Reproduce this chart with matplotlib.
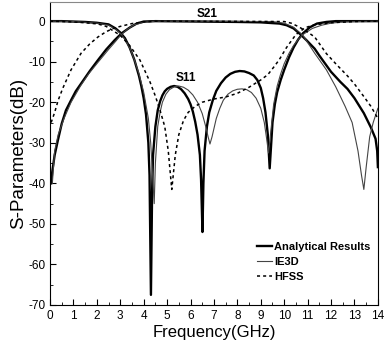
import numpy as np
import matplotlib.pyplot as plt

plt.rcParams['font.family'] = ['Liberation Sans', 'DejaVu Sans']
plt.rcParams['axes.unicode_minus'] = False

# Analytical results
f_a11 = [0, 0.5, 1.0, 1.5, 2.0, 2.5, 2.8, 3.0, 3.2, 3.4, 3.6, 3.8, 3.9, 4.0, 4.1, 4.2, 4.25, 4.31, 4.36, 4.4,
         4.5, 4.6, 4.7, 4.8, 4.9, 5.0, 5.15, 5.3, 5.45, 5.6, 5.75, 5.9, 6.0, 6.1, 6.2, 6.3, 6.4, 6.45, 6.51,
         6.55, 6.6, 6.7, 6.8, 6.95, 7.1, 7.3, 7.5, 7.7, 7.9, 8.1, 8.3, 8.5, 8.7, 8.85, 9.0, 9.1, 9.2, 9.3, 9.38,
         9.5, 9.6, 9.7, 9.85, 10.0, 10.2, 10.4, 10.6, 10.8, 11.1, 11.4, 11.8, 12.2, 13.0, 14.0]
s11_a = [0, 0, -0.1, -0.2, -0.4, -0.8, -1.8, -2.8, -4.2, -6.5, -9.5, -13.5, -16, -19, -23, -30, -38, -67.5, -42, -33,
         -26, -22, -19.8, -18.3, -17.3, -16.7, -16.2, -16.0, -16.2, -16.8, -17.8, -19.2, -20.5, -22.3, -24.8, -28, -33, -39, -52,
         -40, -32, -26, -22.5, -19.5, -17.2, -15.3, -13.9, -13.0, -12.5, -12.3, -12.4, -12.8, -13.4, -14.5, -16.5, -19, -22.5, -28, -36.3,
         -25, -20.5, -17.5, -14.5, -12, -9, -6.5, -4.5, -3, -1.5, -0.6, -0.2, 0, 0, 0]
f_a21 = [0.05, 0.1, 0.2, 0.34, 0.5, 0.68, 0.9, 1.1, 1.34, 1.7, 2.05, 2.4, 2.76, 3.06, 3.4, 3.7, 4.0, 4.5, 8.0, 9.0,
         9.8, 10.1, 10.4, 10.7, 10.95, 11.3, 11.5, 11.75, 12.0, 12.4, 12.7, 13.0, 13.4, 13.7, 13.9, 13.97, 14.0]
s21_a = [-40, -37, -33, -29.3, -25.3, -22, -19.5, -17.3, -15.3, -12.3, -9.6, -7, -4.7, -3, -1.6, -0.6, -0.1, 0, -0.2, -0.3,
         -0.6, -1, -1.8, -3.3, -4.7, -6.8, -8.5, -10.5, -12.5, -15, -16.7, -19, -22.7, -26.2, -29, -32, -36]

# IE3D
f_i11 = [0, 1.0, 2.0, 2.5, 2.8, 3.0, 3.2, 3.4, 3.6, 3.8, 4.0, 4.2, 4.3, 4.4, 4.45, 4.5, 4.6, 4.7, 4.8, 4.95,
         5.1, 5.3, 5.5, 5.7, 5.9, 6.1, 6.3, 6.5, 6.65, 6.75, 6.83, 6.92, 7.0, 7.1, 7.25, 7.4, 7.6, 7.8, 8.0, 8.2,
         8.4, 8.6, 8.8, 9.0, 9.15, 9.25, 9.33, 9.45, 9.55, 9.7, 9.85, 10.0, 10.2, 10.4, 10.6, 10.8, 11.2, 11.6,
         12.0, 12.5, 13.0, 14.0]
s11_i = [0, -0.1, -0.5, -1.0, -2, -3, -4.5, -6.5, -9.5, -13, -17.5, -24, -30, -40, -45, -35, -26, -22.5, -20, -18,
         -16.9, -16.2, -16, -16.3, -17, -18.2, -20, -22.8, -26, -28.5, -30.3, -28.5, -26.5, -24, -21.5, -19.5, -18, -17.2, -16.8, -16.7,
         -16.9, -17.6, -19, -21.5, -25, -29, -32.5, -26, -20.5, -16, -13, -10.5, -8, -6, -4.5, -3.3, -1.8, -1.0,
         -0.5, -0.2, -0.1, 0]
f_i21 = [0.1, 0.2, 0.35, 0.6, 0.9, 1.3, 1.65, 2.0, 2.5, 2.8, 3.0, 3.3, 3.6, 4.0, 4.5, 9.5, 10.0, 10.4, 10.8, 11.3,
         11.8, 12.2, 12.6, 12.9, 13.15, 13.3, 13.4, 13.5, 13.65, 13.8, 14.0]
s21_i = [-40, -32, -28, -24, -20, -16, -13, -10.5, -7, -5, -3.6, -2, -0.9, -0.3, 0, -0.1, -0.5, -1.5, -3.5, -7.9,
         -12, -16.2, -21, -25, -32, -38, -41.5, -36, -28.5, -25, -21.5]

# HFSS
f_h11 = [0, 0.5, 1.0, 1.5, 2.05, 2.4, 2.7, 3.0, 3.4, 3.84, 4.27, 4.5, 4.7, 4.9, 5.05, 5.2, 5.35, 5.5, 5.7, 5.9,
         6.2, 6.5, 7.0, 7.5, 8.0, 8.5, 9.0, 9.3, 9.6, 9.8, 10.1, 10.5, 10.9, 11.3, 12.0, 13.0, 14.0]
s11_h = [0, -0.1, -0.2, -0.4, -0.7, -1.3, -2.4, -3.5, -6, -9.6, -15, -18.5, -22, -26, -32, -41.5, -33, -28, -24.5, -22.5,
         -21, -20, -19.2, -18.7, -17.8, -16.3, -14.5, -13.2, -11, -9.4, -6.5, -3.3, -1.6, -0.9, -0.4, -0.1, 0]
f_h21 = [0.05, 0.2, 0.35, 0.55, 0.9, 1.33, 1.7, 2.05, 2.4, 2.7, 3.0, 3.5, 4.0, 4.5, 10.0, 10.3, 10.55, 10.9, 11.3,
         11.8, 12.2, 12.7, 13.0, 13.4, 13.7, 14.0]
s21_h = [-25, -22.5, -19.5, -16.5, -12, -7.9, -5.6, -3.9, -2.6, -1.8, -1.3, -0.6, -0.2, 0, -0.1, -0.5, -1.2, -2.3, -3.9,
         -8, -10.5, -13.5, -15.5, -18.6, -21, -24]

fig = plt.figure(figsize=(3.86, 3.46), dpi=100)
ax = fig.add_axes([0.1295, 0.1185, 0.8495, 0.8755])

ax.plot(f_a11, s11_a, color='black', lw=1.7, label='Analytical Results')
ax.plot(f_a21, s21_a, color='black', lw=1.7)
ax.plot(f_i11, s11_i, color='#444444', lw=0.8, label='IE3D')
ax.plot(f_i21, s21_i, color='#444444', lw=0.8)
ax.plot(f_h11, s11_h, color='black', lw=1.1, ls=(0, (2, 2)), label='HFSS')
ax.plot(f_h21, s21_h, color='black', lw=1.1, ls=(0, (2, 2)))

ax.set_xlim(0, 14)
ax.set_ylim(-70, 4.7)
ax.set_xticks(np.arange(0, 15, 1))
ax.set_xticks(np.arange(0, 14.1, 0.5), minor=True)
ax.set_yticks(np.arange(-70, 1, 10))
ax.set_yticks(np.arange(-70, 1, 5), minor=True)
ax.tick_params(which='both', direction='in', labelsize=8.5)
ax.tick_params(which='major', length=4)
ax.tick_params(which='minor', length=2)
ax.spines['top'].set_color('#888888')

ax.text(6.7, 1.8, 'S21', fontsize=8.5, fontweight='bold', ha='center', va='center')
ax.text(5.8, -14, 'S11', fontsize=8.5, fontweight='bold', ha='center', va='center')

ax.set_xlabel('Frequency(GHz)', fontsize=12, labelpad=2)
ax.set_ylabel('S-Parameters(dB)', fontsize=13.5, labelpad=1)

leg = ax.legend(loc='lower right', bbox_to_anchor=(0.99, 0.06), frameon=False, fontsize=8,
                handlelength=1.3, handletextpad=0.2, labelspacing=0.45, borderaxespad=0)
for t in leg.get_texts():
    t.set_fontweight('bold')

fig.savefig('out.png', dpi=100)
